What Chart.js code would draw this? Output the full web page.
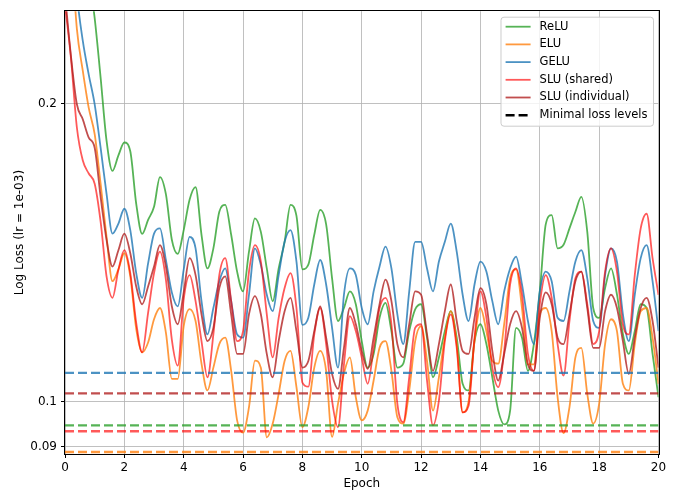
<!DOCTYPE html>
<html>
<head>
<meta charset="utf-8">
<script src="https://cdn.jsdelivr.net/npm/chart.js@4.4.0/dist/chart.umd.min.js"></script>
<style>
  html, body { margin: 0; padding: 0; background: #fff; }
  canvas { display: block; }
</style>
</head>
<body>
<canvas id="lossChart" width="677" height="494"></canvas>
<script>
// sampling grid: every 0.2 epoch from 0 to 20
const epochs = Array.from({ length: 101 }, (_, i) => i / 5);

const relu = [
  0.42, 0.37, 0.33, 0.30, 0.27, 0.244, 0.2125, 0.1835, 0.171, 0.1773,
  0.1827, 0.179, 0.1584, 0.1477, 0.1526, 0.1573, 0.1686, 0.162, 0.1457, 0.141,
  0.149, 0.160, 0.1647, 0.1474, 0.1363, 0.1428, 0.1555, 0.158, 0.1474, 0.1353,
  0.1292, 0.1417, 0.1531, 0.1484, 0.1363, 0.1263, 0.1363, 0.145, 0.158, 0.154,
  0.136, 0.1375, 0.1474, 0.1562, 0.151, 0.1332, 0.1206, 0.1243, 0.1292, 0.1254,
  0.1151, 0.1082, 0.1117, 0.1215, 0.1258, 0.1178, 0.1082, 0.1092, 0.1178, 0.1239,
  0.1254, 0.116, 0.1058, 0.1108, 0.1178, 0.1234, 0.116, 0.1042, 0.1026, 0.1151,
  0.1197, 0.1143, 0.1058, 0.0979, 0.0948, 0.0979, 0.1187, 0.116, 0.1074, 0.1143,
  0.1292, 0.151, 0.1543, 0.1428, 0.144, 0.1496, 0.1555, 0.161, 0.1484, 0.1243,
  0.1215, 0.1302, 0.1363, 0.1283, 0.117, 0.1117, 0.1178, 0.1254, 0.1243, 0.1117,
  0.101
];
const elu = [
  0.34, 0.29, 0.238, 0.2158, 0.198, 0.1863, 0.166, 0.1467, 0.1323, 0.136,
  0.1412, 0.1338, 0.1184, 0.1121, 0.1147, 0.1211, 0.1243, 0.1174, 0.1054, 0.1054,
  0.1192, 0.124, 0.1206, 0.1092, 0.1026, 0.1082, 0.1143, 0.116, 0.1074, 0.0957,
  0.093, 0.0987, 0.110, 0.1082, 0.092, 0.095, 0.1018, 0.1099, 0.1125, 0.1034,
  0.0942, 0.0987, 0.1082, 0.1125, 0.1074, 0.0921, 0.0995, 0.1067, 0.1108, 0.101,
  0.0957, 0.0979, 0.105, 0.1133, 0.1151, 0.1074, 0.0964, 0.095, 0.1026, 0.1151,
  0.1192, 0.1099, 0.0979, 0.1058, 0.116, 0.1234, 0.1143, 0.0975, 0.100, 0.1151,
  0.1243, 0.1178, 0.1099, 0.1092, 0.1197, 0.1332, 0.136, 0.1243, 0.109, 0.109,
  0.1225, 0.1243, 0.1178, 0.101, 0.0929, 0.0987, 0.1108, 0.1133, 0.1018, 0.095,
  0.0995, 0.1143, 0.1211, 0.1178, 0.1042, 0.1026, 0.1143, 0.1234, 0.1243, 0.116,
  0.1042
];
const gelu = [
  0.36, 0.31, 0.258, 0.2314, 0.214, 0.1997, 0.1805, 0.1621, 0.1478, 0.1513,
  0.1566, 0.149, 0.1348, 0.1273, 0.1379, 0.1478, 0.1496, 0.139, 0.1289, 0.1248,
  0.1359, 0.1467, 0.1428, 0.1263, 0.1169, 0.1243, 0.1323, 0.1363, 0.1263, 0.1169,
  0.116, 0.1282, 0.1428, 0.1374, 0.1282, 0.1234, 0.1342, 0.145, 0.149, 0.1385,
  0.1195, 0.1215, 0.1313, 0.139, 0.1313, 0.1187, 0.1082, 0.1282, 0.1363, 0.1342,
  0.1243, 0.1197, 0.1292, 0.1369, 0.1434, 0.1363, 0.1225, 0.1143, 0.1292, 0.145,
  0.145, 0.1363, 0.1292, 0.1385, 0.145, 0.1513, 0.1417, 0.1282, 0.1206, 0.1313,
  0.1385, 0.1353, 0.1263, 0.1197, 0.1292, 0.1363, 0.1401, 0.1313, 0.1206, 0.1143,
  0.1292, 0.1353, 0.1323, 0.1215, 0.1206, 0.1292, 0.1385, 0.1422, 0.1332, 0.1206,
  0.1187, 0.1342, 0.1428, 0.1385, 0.1225, 0.1151, 0.1282, 0.1396, 0.1439, 0.1323,
  0.1178
];
const sluShared = [
  0.252, 0.2224, 0.1892, 0.1752, 0.170, 0.166, 0.152, 0.1338, 0.1273, 0.1359,
  0.1422, 0.1348, 0.1201, 0.1121, 0.1229, 0.1348, 0.1417, 0.1328, 0.1155, 0.1087,
  0.1268, 0.1342, 0.1263, 0.1151, 0.1058, 0.1169, 0.1342, 0.1396, 0.1263, 0.1151,
  0.1178, 0.1353, 0.1439, 0.1385, 0.1225, 0.1108, 0.1215, 0.1302, 0.1348, 0.1243,
  0.1045, 0.1035, 0.1169, 0.1243, 0.1143, 0.1002, 0.0942, 0.109, 0.122, 0.1178,
  0.1108, 0.1042, 0.1133, 0.1243, 0.1273, 0.1197, 0.0995, 0.0953, 0.1058, 0.1187,
  0.1197, 0.105, 0.0946, 0.1002, 0.1151, 0.1225, 0.1133, 0.0975, 0.099, 0.116,
  0.1292, 0.1215, 0.1082, 0.1034, 0.1125, 0.1313, 0.1363, 0.1282, 0.1117, 0.1074,
  0.1254, 0.1342, 0.1273, 0.1143, 0.1062, 0.1206, 0.1332, 0.1353, 0.1254, 0.1143,
  0.1178, 0.1353, 0.1428, 0.1353, 0.1197, 0.1169, 0.1342, 0.1496, 0.1548, 0.1396,
  0.1282
];
const sluIndividual = [
  0.258, 0.2235, 0.1997, 0.1928, 0.1848, 0.1805, 0.161, 0.1457, 0.1369, 0.1422,
  0.1478, 0.1412, 0.1307, 0.1254, 0.1307, 0.1369, 0.1439, 0.1369, 0.1248, 0.1197,
  0.1289, 0.1396, 0.1342, 0.1225, 0.1151, 0.1187, 0.1302, 0.1338, 0.1225, 0.1117,
  0.1117, 0.1225, 0.1278, 0.1225, 0.1117, 0.1058, 0.1151, 0.1234, 0.1273, 0.1178,
  0.1082, 0.1099, 0.1178, 0.1248, 0.116, 0.1066, 0.103, 0.1133, 0.1243, 0.1197,
  0.1125, 0.1079, 0.116, 0.1254, 0.1328, 0.1263, 0.1143, 0.1108, 0.1197, 0.1292,
  0.1282, 0.1169, 0.1074, 0.1143, 0.1234, 0.1313, 0.1206, 0.1125, 0.1117, 0.1215,
  0.1302, 0.1254, 0.1125, 0.105, 0.1117, 0.1197, 0.1234, 0.1187, 0.109, 0.1074,
  0.1215, 0.1289, 0.1254, 0.116, 0.1143, 0.1225, 0.1323, 0.1353, 0.1243, 0.1133,
  0.1133, 0.1234, 0.1282, 0.1243, 0.1151, 0.1066, 0.116, 0.1243, 0.1273, 0.1206,
  0.1082
];

// minimal loss of each series (same order as seriesNames)
const minLevels = [0.0946, 0.0889, 0.1069, 0.0933, 0.1019];
const seriesNames = ["ReLU", "ELU", "GELU", "SLU (shared)", "SLU (individual)"];
const seriesValues = [relu, elu, gelu, sluShared, sluIndividual];
const seriesColors = [
  "rgba(44,160,44,0.8)",
  "rgba(255,127,14,0.8)",
  "rgba(31,119,180,0.8)",
  "rgba(255,0,0,0.65)",
  "rgba(178,34,34,0.8)"
];
const yTicks = [0.09, 0.1, 0.2];

const FONT = '"DejaVu Sans", sans-serif';
Chart.defaults.font.family = FONT;
Chart.defaults.font.size = 12;
Chart.defaults.color = "#000";

const datasets = [];
seriesValues.forEach((vals, i) => {
  datasets.push({
    label: seriesNames[i],
    data: epochs.map((e, k) => ({ x: e, y: vals[k] })),
    borderColor: seriesColors[i],
    borderWidth: 1.8,
    pointRadius: 0,
    cubicInterpolationMode: "monotone",
    order: 5 - i
  });
});
minLevels.forEach((v, i) => {
  datasets.push({
    label: seriesNames[i] + " min",
    data: [{ x: 0, y: v }, { x: 20, y: v }],
    borderColor: seriesColors[i],
    borderWidth: 2.4,
    borderDash: [9, 4],
    pointRadius: 0,
    order: 0
  });
});

const legendItems = seriesNames.map((n, i) => ({ label: n, color: seriesColors[i], dash: [], width: 1.8 }))
  .concat([{ label: "Minimal loss levels", color: "#000", dash: [9, 4], width: 2.4 }]);

const framePlugin = {
  id: "frame",
  beforeDraw(chart) {
    const ctx = chart.ctx;
    ctx.save();
    ctx.fillStyle = "#fff";
    ctx.fillRect(0, 0, chart.width, chart.height);
    ctx.restore();
  },
  afterDraw(chart) {
    const { ctx, chartArea: a } = chart;
    ctx.save();
    ctx.strokeStyle = "#000";
    ctx.lineWidth = 1;
    ctx.strokeRect(Math.round(a.left) - 0.5, Math.round(a.top) - 0.5,
      Math.round(a.right) - Math.round(a.left) + 1, Math.round(a.bottom) - Math.round(a.top) + 1);

    // legend box, top right inside the axes
    ctx.font = "11.5px " + FONT;
    const textW = Math.max(...legendItems.map((it) => ctx.measureText(it.label).width));
    const w = 4.6 + 25 + 9 + textW + 6;
    const h = 109;
    const x = a.right - 5 - w;
    const y = a.top + 6;
    ctx.beginPath();
    ctx.roundRect(x, y, w, h, 3);
    ctx.fillStyle = "rgba(255,255,255,0.8)";
    ctx.fill();
    ctx.strokeStyle = "#cccccc";
    ctx.lineWidth = 1;
    ctx.stroke();
    legendItems.forEach((it, i) => {
      const cy = y + 9.5 + i * 17.7;
      ctx.beginPath();
      ctx.setLineDash(it.dash);
      ctx.lineWidth = it.width;
      ctx.strokeStyle = it.color;
      ctx.moveTo(x + 4.6, cy);
      ctx.lineTo(x + 29.6, cy);
      ctx.stroke();
      ctx.setLineDash([]);
      ctx.fillStyle = "#000";
      ctx.textBaseline = "middle";
      ctx.textAlign = "left";
      ctx.fillText(it.label, x + 38.6, cy);
    });
    ctx.restore();
  }
};

const gridStyle = { color: "#b0b0b0", lineWidth: 0.8, tickLength: 4, tickColor: "#000", tickWidth: 1 };

new Chart(document.getElementById("lossChart").getContext("2d"), {
  type: "line",
  data: { datasets },
  options: {
    responsive: false,
    animation: false,
    devicePixelRatio: 1,
    layout: { padding: { left: 0, top: 7.7, right: 18.5, bottom: 0 } },
    plugins: { legend: { display: false }, tooltip: { enabled: false } },
    scales: {
      x: {
        type: "linear",
        min: 0,
        max: 20,
        ticks: { stepSize: 2, padding: 3, maxRotation: 0 },
        grid: gridStyle,
        border: { display: false },
        title: { display: true, text: "Epoch", padding: { top: 0, bottom: 3 } },
        afterFit(s) { s.height = 40; }
      },
      y: {
        type: "logarithmic",
        min: 0.0885,
        max: 0.248,
        afterBuildTicks(s) { s.ticks = yTicks.map((v) => ({ value: v })); },
        ticks: { padding: 4, autoSkip: false, callback: (v) => String(v) },
        grid: gridStyle,
        border: { display: false },
        title: { display: true, text: "Log Loss (lr = 1e-03)", padding: { top: 12.8, bottom: 0 } },
        afterFit(s) { s.width = 65; }
      }
    }
  },
  plugins: [framePlugin]
});
</script>
</body>
</html>
